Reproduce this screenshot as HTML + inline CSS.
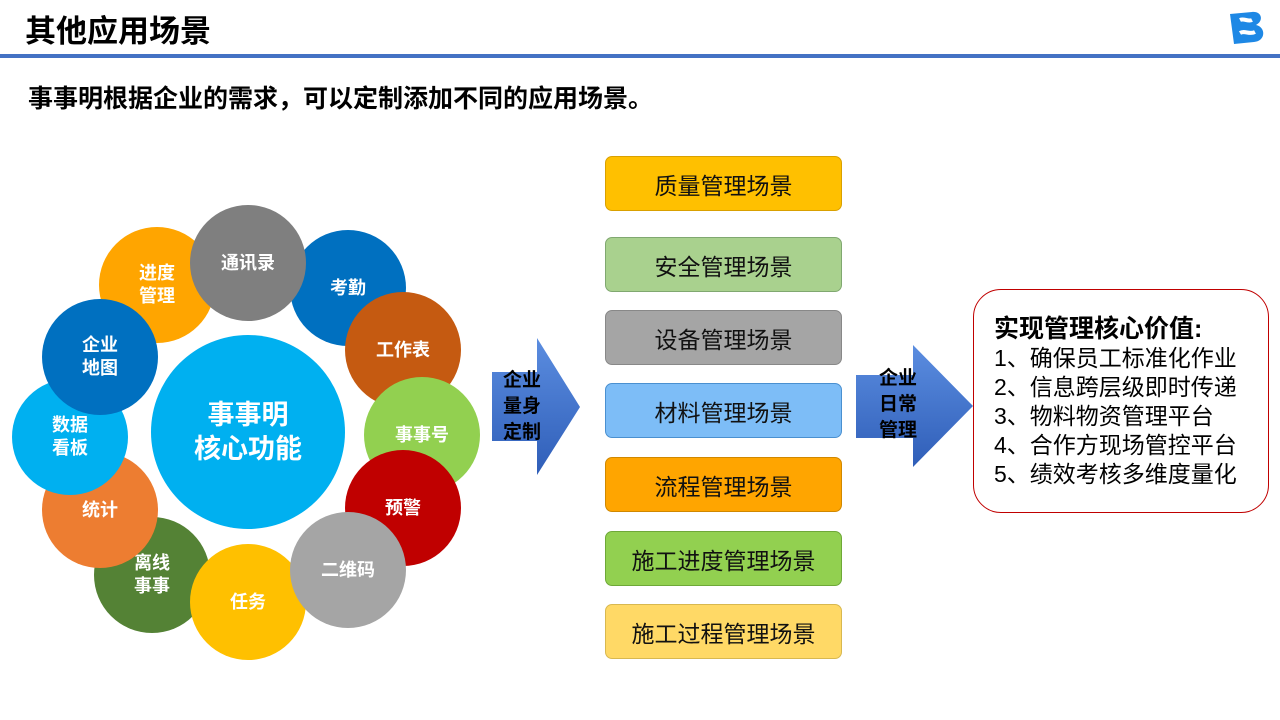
<!DOCTYPE html>
<html><head><meta charset="utf-8"><style>
body{margin:0;width:1280px;height:720px;background:#fff;position:relative;overflow:hidden;font-family:"Liberation Sans","Noto Sans CJK SC",sans-serif}
.a{position:absolute}
.c{position:absolute;border-radius:50%;display:flex;align-items:center;justify-content:center;text-align:center;color:#fff;font-weight:bold;font-size:18px;line-height:23px;width:116px;height:116px}
.b{position:absolute;left:605px;width:235px;height:53px;border:1px solid;border-radius:7px;display:flex;align-items:center;justify-content:center;font-size:23px;color:#111}
</style></head><body>
<div class="a" style="left:25px;top:6px;font-size:31px;font-weight:bold;color:#000">其他应用场景</div>
<div class="a" style="left:0;top:54px;width:1280px;height:4px;background:#4472c4"></div>
<svg class="a" style="left:1226px;top:8px" width="44" height="40" viewBox="0 0 44 40"><path d="M4 6 L26 4 C36 3 38 13 30 17 C40 19 40 33 28 34 L8 36 Z" fill="#1e88e5"/><path d="M14 12 C18 10 22 14 26 12 M14 25 C19 22 23 27 29 24" stroke="#fff" stroke-width="4" fill="none"/></svg>
<div class="a" style="left:28px;top:79px;font-size:25px;font-weight:bold">事事明根据企业的需求，可以定制添加不同的应用场景。</div>

<div class="c" style="left:99px;top:227px;background:#ffa500">进度<br>管理</div>
<div class="c" style="left:290px;top:230px;background:#0070c0">考勤</div>
<div class="c" style="left:190px;top:205px;background:#7f7f7f">通讯录</div>
<div class="c" style="left:345px;top:292px;background:#c55a11">工作表</div>
<div class="c" style="left:364px;top:377px;background:#92d050">事事号</div>
<div class="c" style="left:345px;top:450px;background:#c00000">预警</div>
<div class="c" style="left:94px;top:517px;background:#548235">离线<br>事事</div>
<div class="c" style="left:190px;top:544px;background:#ffc000">任务</div>
<div class="c" style="left:290px;top:512px;background:#a5a5a5">二维码</div>
<div class="c" style="left:42px;top:452px;background:#ed7d31">统计</div>
<div class="c" style="left:12px;top:379px;background:#00b0f0">数据<br>看板</div>
<div class="c" style="left:42px;top:299px;background:#0070c0">企业<br>地图</div>
<div class="c" style="left:151px;top:335px;width:194px;height:194px;background:#00b0f0;font-size:27px;line-height:34px">事事明<br>核心功能</div>

<svg class="a" style="left:0;top:0" width="1280" height="720">
<defs><linearGradient id="g" x1="0" y1="0" x2="0" y2="1"><stop offset="0" stop-color="#5b8de0"/><stop offset="1" stop-color="#2f5eb8"/></linearGradient></defs>
<polygon points="492,372 537,372 537,338 580,407 537,475 537,441 492,441" fill="url(#g)"/>
<polygon points="856,375 913,375 913,345 973,406 913,467 913,438 856,438" fill="url(#g)"/>
</svg>
<div class="a" style="left:503px;top:368px;font-size:19px;font-weight:bold;line-height:26px;width:45px">企业<br>量身<br>定制</div>
<div class="a" style="left:879px;top:366px;font-size:19px;font-weight:bold;line-height:26px;width:45px">企业<br>日常<br>管理</div>

<div class="b" style="top:156px;background:#ffc000;border-color:#d9a000">质量管理场景</div>
<div class="b" style="top:237px;background:#a9d18e;border-color:#80a870">安全管理场景</div>
<div class="b" style="top:310px;background:#a5a5a5;border-color:#888">设备管理场景</div>
<div class="b" style="top:383px;background:#7dbdf7;border-color:#4a90d0">材料管理场景</div>
<div class="b" style="top:457px;background:#ffa500;border-color:#d08800">流程管理场景</div>
<div class="b" style="top:531px;background:#92d050;border-color:#6ea838">施工进度管理场景</div>
<div class="b" style="top:604px;background:#ffd966;border-color:#d8b850">施工过程管理场景</div>

<div class="a" style="left:973px;top:289px;width:296px;height:224px;border:1px solid #c00000;border-radius:28px;box-sizing:border-box;padding:24px 0 0 20px;font-size:23px;line-height:29px;color:#000">
<div style="font-weight:bold;font-size:25px;line-height:30px">实现管理核心价值:</div>
1、确保员工标准化作业<br>2、信息跨层级即时传递<br>3、物料物资管理平台<br>4、合作方现场管控平台<br>5、绩效考核多维度量化</div>
</body></html>
